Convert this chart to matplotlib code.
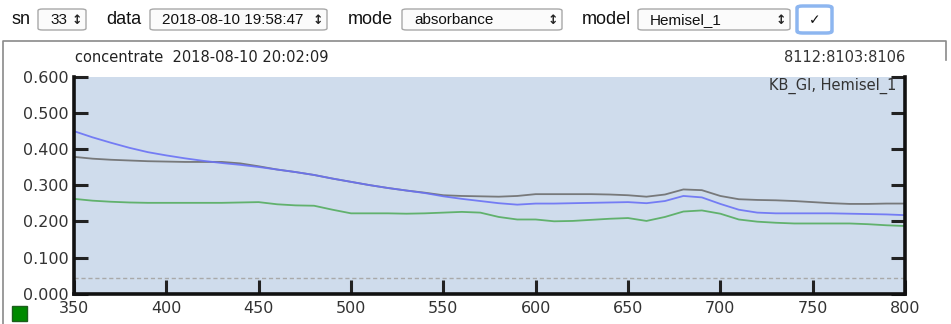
import numpy as np
import matplotlib.pyplot as plt
from matplotlib.patches import FancyBboxPatch, Rectangle
from matplotlib.lines import Line2D

# wavelength grid (nm) and the three absorbance traces
wavelength = [350, 360, 370, 380, 390, 400, 410, 420, 430, 440,
              450, 460, 470, 480, 490, 500, 510, 520, 530, 540,
              550, 560, 570, 580, 590, 600, 610, 620, 630, 640,
              650, 660, 670, 680, 690, 700, 710, 720, 730, 740,
              750, 760, 770, 780, 790, 800]

blue_trace = [0.449, 0.432, 0.417, 0.403, 0.391, 0.382, 0.374, 0.367, 0.361, 0.356,
              0.350, 0.343, 0.336, 0.328, 0.318, 0.309, 0.300, 0.292, 0.285, 0.278,
              0.269, 0.262, 0.256, 0.250, 0.246, 0.249, 0.249, 0.250, 0.251, 0.252,
              0.253, 0.250, 0.256, 0.270, 0.266, 0.248, 0.232, 0.224, 0.222, 0.222,
              0.222, 0.222, 0.221, 0.220, 0.219, 0.217]

gray_trace = [0.378, 0.373, 0.370, 0.368, 0.366, 0.365, 0.364, 0.364, 0.364, 0.360,
              0.352, 0.343, 0.336, 0.328, 0.318, 0.309, 0.300, 0.292, 0.285, 0.279,
              0.272, 0.270, 0.269, 0.268, 0.270, 0.275, 0.275, 0.275, 0.275, 0.274,
              0.272, 0.268, 0.274, 0.288, 0.286, 0.270, 0.261, 0.259, 0.258, 0.256,
              0.253, 0.250, 0.248, 0.248, 0.249, 0.249]

green_trace = [0.262, 0.257, 0.254, 0.252, 0.251, 0.251, 0.251, 0.251, 0.251, 0.252,
               0.253, 0.247, 0.244, 0.243, 0.232, 0.222, 0.222, 0.222, 0.221, 0.222,
               0.224, 0.226, 0.224, 0.212, 0.205, 0.205, 0.200, 0.201, 0.204, 0.207,
               0.209, 0.201, 0.212, 0.227, 0.230, 0.221, 0.205, 0.199, 0.196, 0.194,
               0.194, 0.194, 0.194, 0.192, 0.189, 0.187]

baseline = 0.042

x_ticks = [350, 400, 450, 500, 550, 600, 650, 700, 750, 800]
y_ticks = [0.0, 0.1, 0.2, 0.3, 0.4, 0.5, 0.6]

W, H = 951, 324
fig = plt.figure(figsize=(W / 100, H / 100), dpi=100)


def fx(px):
    return px / W


def fy(py):
    return 1 - py / H


ui_font = ['Liberation Sans', 'DejaVu Sans']

# --- control row on top ---
labels = [("sn", 12), ("data", 106), ("mode", 348), ("model", 582)]
for txt, px in labels:
    fig.text(fx(px), fy(20), txt, fontsize=13, family=ui_font, va='center', color='#111')

# (left, right, text, text x)
boxes = [(38, 86, "33", 50), (150, 327, "2018-08-10 19:58:47", 162),
         (402, 562, "absorbance", 414), (638, 790, "Hemisel_1", 650)]
for x0, x1, txt, tx in boxes:
    fig.patches.append(FancyBboxPatch((fx(x0), fy(30)), fx(x1 - x0), fy(9) - fy(30),
                                      boxstyle="round,pad=0,rounding_size=0.005",
                                      transform=fig.transFigure, facecolor='#fbfbfb',
                                      edgecolor='#a8a8a8', linewidth=1))
    fig.text(fx(tx), fy(20.5), txt, fontsize=11, family=ui_font,
             va='center', ha='left', color='#111')
    fig.text(fx(x1 - 9), fy(20), "\u2195", fontsize=9, family=['DejaVu Sans'],
             va='center', ha='center', color='#222', fontweight='bold')

# checkbox button
fig.patches.append(FancyBboxPatch((fx(797), fy(33)), fx(35), fy(6) - fy(33),
                                  boxstyle="round,pad=0,rounding_size=0.006",
                                  transform=fig.transFigure, facecolor='#ffffff',
                                  edgecolor='#8db6f0', linewidth=2.5))
fig.text(fx(814.5), fy(20), "\u2713", fontsize=10, family=['DejaVu Sans'],
         va='center', ha='center', color='#111')

# outer frame
fig.lines.append(Line2D([fx(3), fx(3), fx(946), fx(946)], [0, fy(41), fy(41), fy(60)],
                        transform=fig.transFigure, color='#8a8a8a', linewidth=1.2))

# --- the chart ---
ax = fig.add_axes([fx(74), fy(293.7), fx(905 - 74), fy(76.5) - fy(293.7)])
ax.set_facecolor('#cfdcec')

ax.plot(wavelength, gray_trace, color='#6e6e6e', linewidth=1.3, alpha=0.9)
ax.plot(wavelength, green_trace, color='#55ad5f', linewidth=1.3, alpha=0.9)
ax.plot(wavelength, blue_trace, color='#6a72f5', linewidth=1.3, alpha=0.9)
ax.axhline(baseline, color='#a9a9a9', linewidth=1, linestyle=(0, (3, 2)))

ax.set_xlim(350, 800)
ax.set_ylim(0, 0.6)
ax.set_xticks(x_ticks)
ax.set_yticks(y_ticks)
ax.set_yticklabels([f"{v:.3f}" for v in y_ticks])

for side in ['left', 'bottom', 'right']:
    ax.spines[side].set_linewidth(2.6)
    ax.spines[side].set_color('#111')
ax.spines['top'].set_visible(False)

ax.tick_params(axis='both', direction='in', length=10, width=2.2, color='#222',
               labelsize=11.5, labelcolor='#333')
ax.tick_params(axis='y', right=True, pad=4)
ax.tick_params(axis='x', pad=5)
for lab in ax.get_xticklabels() + ax.get_yticklabels():
    lab.set_family('DejaVu Sans')

ax.text(0.99, 0.955, "KB_GI, Hemisel_1", transform=ax.transAxes, ha='right', va='center',
        fontsize=10.5, color='#333')

fig.text(fx(75), fy(57), "concentrate  2018-08-10 20:02:09", fontsize=10.5,
         va='center', ha='left', color='#222')
fig.text(fx(905), fy(57), "8112:8103:8106", fontsize=10.5, va='center', ha='right',
         color='#333')

# little green status square
fig.patches.append(Rectangle((fx(12), fy(321)), fx(15), fy(306) - fy(321),
                             transform=fig.transFigure, facecolor='#008a00',
                             edgecolor='#1d5e1d', linewidth=1))

fig.savefig("out.png", dpi=100)
